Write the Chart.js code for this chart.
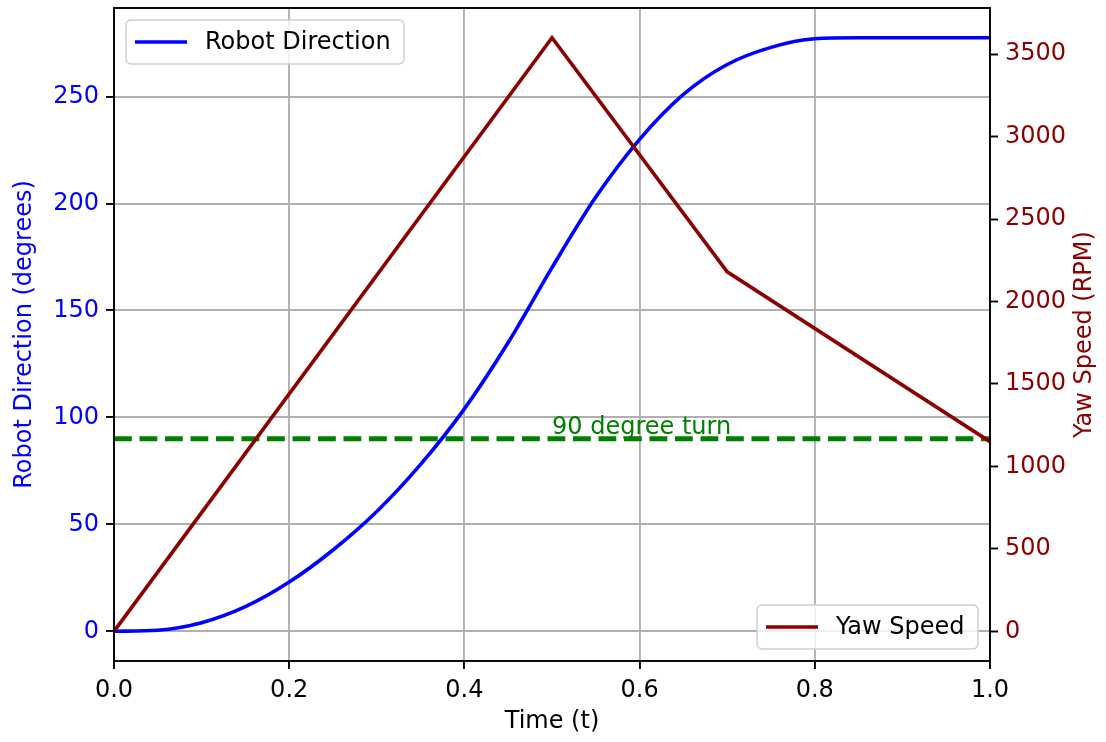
<!DOCTYPE html>
<html>
<head>
<meta charset="utf-8">
<script src="https://cdn.jsdelivr.net/npm/chart.js@4"></script>
<style>
  html, body { margin: 0; padding: 0; background: #fff; }
  #wrap { width: 1106px; height: 742px; }
</style>
</head>
<body>
<div id="wrap"><canvas id="chart" width="1106" height="742"></canvas></div>
<script>
// time samples for the direction curve
var timeSteps = [0.00, 0.05, 0.10, 0.15, 0.20, 0.25, 0.30, 0.35, 0.40, 0.45, 0.50,
                 0.55, 0.60, 0.65, 0.70, 0.75, 0.80, 0.85, 0.90, 0.95, 1.00];
// robot direction, degrees
var robotDirection = [0, 0.5, 4, 11.5, 23, 38, 56, 78, 104, 135, 170,
                      203, 230, 251, 265, 273, 277, 277.5, 277.5, 277.5, 277.5];
// yaw speed corners, RPM
var yawTimes = [0.0, 0.5, 0.7, 1.0];
var yawSpeed = [0, 3600, 2180, 1150];
// tick labels
var timeTicks = [0, 0.2, 0.4, 0.6, 0.8, 1.0];
var directionTicks = [0, 50, 100, 150, 200, 250];
var speedTicks = [0, 500, 1000, 1500, 2000, 2500, 3000, 3500];
// reference line
var turnDegrees = 90;
var turnLabel = '90 degree turn';
var turnLabelAt = [0.5, 92];

var FONT = "'DejaVu Sans', sans-serif";
var BLUE = '#0000ff', DARKRED = '#8b0000', GREEN = '#008000';

Chart.defaults.font.family = FONT;
Chart.defaults.font.size = 24;
Chart.defaults.color = '#000';

function pts(xs, ys) {
  return xs.map(function(x, i) { return {x: x, y: ys[i]}; });
}
function fixedTicks(values) {
  return function(s) { s.ticks = values.map(function(v) { return {value: v}; }); };
}
function noPad(s) { s.paddingTop = 0; s.paddingBottom = 0; s.paddingLeft = 0; s.paddingRight = 0; }

// legend boxes, frame, annotation text and right axis title
var extras = {
  id: 'extras',
  afterDatasetsDraw: function(chart) {
    var ctx = chart.ctx, a = chart.chartArea,
        xs = chart.scales.x, ys = chart.scales.y;
    ctx.save();

    // annotation
    ctx.fillStyle = GREEN;
    ctx.font = '24px ' + FONT;
    ctx.textAlign = 'left';
    ctx.textBaseline = 'alphabetic';
    ctx.fillText(turnLabel, xs.getPixelForValue(turnLabelAt[0]), ys.getPixelForValue(turnLabelAt[1]));

    // axes frame
    ctx.strokeStyle = '#000';
    ctx.lineWidth = 1.9;
    ctx.strokeRect(a.left, a.top, a.right - a.left, a.bottom - a.top);

    // legends
    function legend(x, y, w, h, color, label) {
      ctx.beginPath();
      ctx.roundRect(x, y, w, h, 5);
      ctx.fillStyle = 'rgba(255,255,255,0.8)';
      ctx.fill();
      ctx.strokeStyle = '#d0d0d0';
      ctx.lineWidth = 1.5;
      ctx.stroke();
      var my = y + h / 2;
      ctx.beginPath();
      ctx.moveTo(x + 9, my);
      ctx.lineTo(x + 61, my);
      ctx.strokeStyle = color;
      ctx.lineWidth = 3.6;
      ctx.stroke();
      ctx.fillStyle = '#000';
      ctx.textBaseline = 'middle';
      ctx.fillText(label, x + 79, my + 1);
    }
    legend(126, 20, 278, 44, BLUE, 'Robot Direction');
    legend(757, 605, 221, 44, DARKRED, 'Yaw Speed');

    // right axis title, reads bottom to top like matplotlib
    ctx.translate(1085, (a.top + a.bottom) / 2);
    ctx.rotate(-Math.PI / 2);
    ctx.fillStyle = DARKRED;
    ctx.textAlign = 'center';
    ctx.textBaseline = 'middle';
    ctx.fillText('Yaw Speed (RPM)', 0, 0);
    ctx.restore();
  }
};

new Chart(document.getElementById('chart'), {
  type: 'line',
  data: {
    datasets: [
      {
        label: 'Yaw Speed',
        data: pts(yawTimes, yawSpeed),
        yAxisID: 'y2',
        borderColor: DARKRED,
        borderWidth: 3.6,
        pointRadius: 0,
        tension: 0,
        order: 0
      },
      {
        label: turnLabel,
        data: pts([0, 1], [turnDegrees, turnDegrees]),
        yAxisID: 'y',
        borderColor: GREEN,
        borderWidth: 4.8,
        borderDash: [17.8, 7.7],
        pointRadius: 0,
        order: 1
      },
      {
        label: 'Robot Direction',
        data: pts(timeSteps, robotDirection),
        yAxisID: 'y',
        borderColor: BLUE,
        borderWidth: 3.6,
        pointRadius: 0,
        cubicInterpolationMode: 'monotone',
        order: 2
      }
    ]
  },
  options: {
    responsive: false,
    animation: false,
    devicePixelRatio: 1,
    layout: { padding: { top: 8, left: 0, right: 0, bottom: 0 } },
    plugins: { legend: { display: false }, tooltip: { enabled: false } },
    scales: {
      x: {
        type: 'linear',
        min: 0, max: 1,
        afterBuildTicks: fixedTicks(timeTicks),
        afterFit: function(s) { s.height = 81; noPad(s); },
        ticks: {
          padding: 7,
          color: '#000',
          maxRotation: 0,
          autoSkip: false,
          callback: function(v) { return v.toFixed(1); }
        },
        grid: { color: '#b0b0b0', lineWidth: 1.9, tickColor: '#000', tickLength: 8, tickWidth: 1.9 },
        border: { display: false },
        title: { display: true, text: 'Time (t)', color: '#000', font: { size: 24, lineHeight: 1 }, padding: { top: 0, bottom: 8.5 } }
      },
      y: {
        type: 'linear',
        position: 'left',
        min: -13.9, max: 291.4,
        afterBuildTicks: fixedTicks(directionTicks),
        afterFit: function(s) { s.width = 114; noPad(s); },
        ticks: { padding: 7, color: BLUE, autoSkip: false, callback: function(v) { return String(v); } },
        grid: { color: '#b0b0b0', lineWidth: 1.9, tickColor: '#000', tickLength: 8, tickWidth: 1.9 },
        border: { display: false },
        title: { display: true, text: 'Robot Direction (degrees)', color: BLUE, font: { size: 24, lineHeight: 1 }, padding: { top: 12.5, bottom: 0 } }
      },
      y2: {
        type: 'linear',
        position: 'right',
        min: -180, max: 3780,
        afterBuildTicks: fixedTicks(speedTicks),
        afterFit: function(s) { s.width = 116; noPad(s); },
        ticks: { padding: 7, color: DARKRED, autoSkip: false, callback: function(v) { return String(v); } },
        grid: { drawOnChartArea: false, tickColor: '#000', tickLength: 8, tickWidth: 1.9 },
        border: { display: false }
      }
    }
  },
  plugins: [extras]
});
</script>
</body>
</html>
